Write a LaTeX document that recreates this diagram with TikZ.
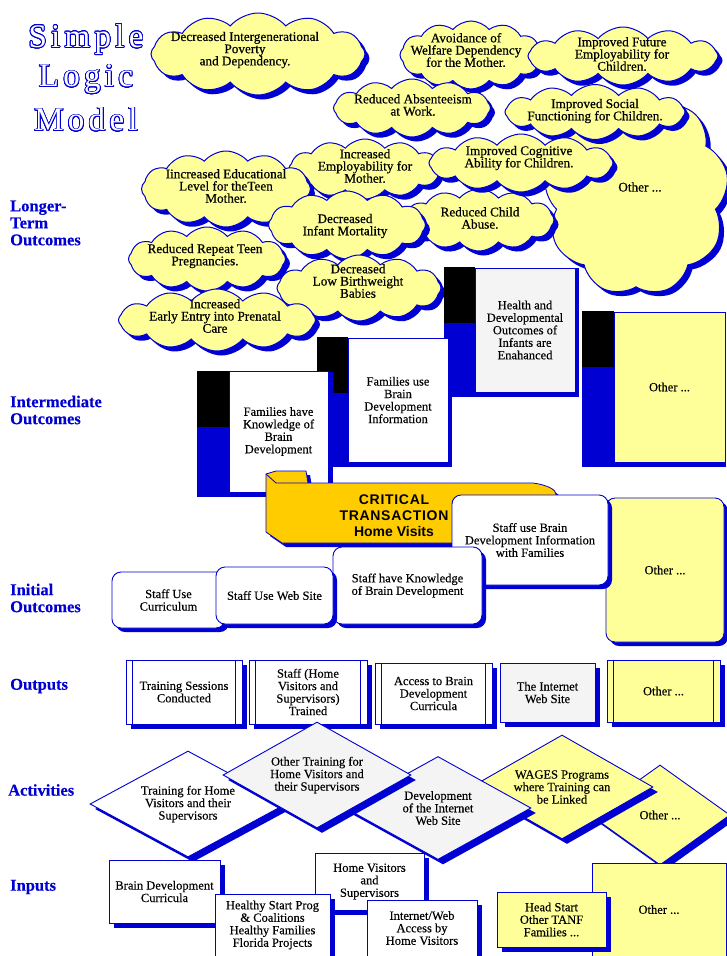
\documentclass[tikz,border=0pt]{standalone}
\usepackage{fontspec}
\setmainfont[FakeBold=0.25]{Liberation Serif}
\newfontfamily\cloudfont[FakeBold=0.6]{Liberation Serif}
\newfontfamily\banfont{Liberation Sans}
\newfontfamily\titlefont[LetterSpace=13]{Liberation Serif}
\usepackage[copies]{contour}
\contourlength{0.8pt}
\contournumber{24}
\usetikzlibrary{shapes.symbols,shapes.geometric,shadows}
\definecolor{bl}{RGB}{0,0,210}
\definecolor{yl}{RGB}{255,255,153}
\definecolor{gr}{RGB}{244,244,244}
\definecolor{gd}{RGB}{255,204,0}
\newcommand\boxfont{\fontsize{12.5}{12.5}\selectfont}
\newcommand\cfont{\cloudfont\fontsize{13.2}{12.2}\selectfont}
\newcommand\dblines[1]{\draw[bl,line width=0.8pt] ([xshift=7pt]#1.north west) -- ([xshift=7pt]#1.south west) ([xshift=-7pt]#1.north east) -- ([xshift=-7pt]#1.south east);}
\tikzset{
  shd/.style={drop shadow={fill=bl,opacity=1,shadow xshift=#1,shadow yshift=-#1}},
  wh/.style 2 args={minimum width=#1, minimum height=#2},
  cl/.style={cloud, cloud puffs=12, cloud puff arc=100, cloud ignores aspect, draw=bl, line width=1pt, fill=yl, inner sep=0pt, shd=4.5pt},
  ct/.style={align=center, font=\cfont, inner sep=0pt},
  ib/.style={rectangle, draw=bl, line width=0.8pt, inner sep=1pt, align=center, font=\boxfont},
  rb/.style={rectangle, rounded corners=9pt, draw=bl, line width=0.9pt, fill=white, inner sep=1pt, align=center, font=\boxfont, shd=4pt},
  ob/.style={rectangle, draw=bl, line width=0.9pt, fill=white, inner sep=1pt, align=center, font=\boxfont, shd=5pt},
  dia/.style={diamond, aspect=1.8, draw=bl, line width=0.9pt, fill=white, inner sep=0pt, align=center, font=\boxfont, shd=5pt},
  lab/.style={font=\bfseries\fontsize{16.5}{17}\selectfont, text=bl, align=left, anchor=west, inner sep=0pt}
}
\begin{document}
\begin{tikzpicture}[x=1pt,y=-1pt]
\fill[white] (0,0) rectangle (726,956);
\useasboundingbox (0,0) rectangle (726,956);

% title
\node[font=\titlefont\fontsize{33}{33}\selectfont, text=white, inner sep=0pt] (t1) at (86,40) {\contour{bl}{Simple}};
\node[font=\titlefont\fontsize{33}{33}\selectfont, text=white, inner sep=0pt] (t2) at (86,80) {\contour{bl}{Logic}};
\node[font=\titlefont\fontsize{33}{33}\selectfont, text=white, inner sep=0pt] (t3) at (86,120) {\contour{bl}{Model}};

% labels
\node[lab] (l1) at (10,223) {Longer-\\Term\\Outcomes};
\node[lab] (l2) at (10,410) {Intermediate\\Outcomes};
\node[lab] (l3) at (10,598) {Initial\\Outcomes};
\node[lab] (l4) at (10,686) {Outputs};
\node[lab] (l5) at (8,790) {Activities};
\node[lab] (l6) at (10,887) {Inputs};

% clouds
\node[cl, cloud puffs=9, cloud puff arc=110, wh={185pt}{205pt}] (c6) at (636,193) {};
\node[ct] (c6t) at (640,187) {Other ...};
\node[cl, wh={214pt}{82pt}] (c1) at (258,54) {};
\node[ct] (c1t) at (245,50) {Decreased Intergenerational\\Poverty\\and Dependency.};
\node[cl, wh={142pt}{68pt}] (c2) at (471,55) {};
\node[ct] (c2t) at (466,50) {Avoidance of\\Welfare Dependency\\for the Mother.};
\node[cl, wh={190pt}{58pt}] (c3) at (623,56) {};
\node[ct] (c3t) at (622,54) {Improved Future\\Employability for\\Children.};
\node[cl, wh={157pt}{58pt}] (c4) at (412,108) {};
\node[ct] (c4t) at (413,105) {Reduced Absenteeism\\at Work.};
\node[cl, wh={180pt}{55pt}] (c5) at (595,112) {};
\node[ct] (c5t) at (595,111) {Improved Social\\Functioning for Children.};
\node[cl, wh={150pt}{62pt}] (c11) at (479,220) {};
\node[ct] (c11t) at (480,218) {Reduced Child\\Abuse.};
\node[cl, wh={152pt}{60pt}] (c7) at (365,169) {};
\node[ct] (c7t) at (365,166) {Increased\\Employability for\\Mother.};
\node[cl, wh={184pt}{58pt}] (c8) at (521,163) {};
\node[ct] (c8t) at (519,158) {Improved Cognitive\\Ability for Children.};
\node[cl, wh={169pt}{76pt}] (c9) at (226,189) {};
\node[ct] (c9t) at (226,186) {Iincreased Educational\\Level for theTeen\\Mother.};
\node[cl, wh={157pt}{68pt}] (c10) at (347,225) {};
\node[ct] (c10t) at (345,226) {Decreased\\Infant Mortality};
\node[cl, wh={157pt}{64pt}] (c12) at (207,259) {};
\node[ct] (c12t) at (205,256) {Reduced Repeat Teen\\Pregnancies.};
\node[cl, wh={164pt}{66pt}] (c13) at (359,288) {};
\node[ct] (c13t) at (358,281) {Decreased\\Low Birthweight\\Babies};
\node[cl, wh={197pt}{62pt}] (c14) at (217,320) {};
\node[ct] (c14t) at (215,316) {Increased\\Early Entry into Prenatal\\Care};

% intermediate outcomes
\fill[bl] (582,312) rectangle (726,467);
\fill[black] (582,311) rectangle (614,367);
\node[ib, fill=yl, wh={111pt}{150pt}] (id) at (669.5,387) {Other ...};
\fill[bl] (444,268) rectangle (579,397);
\fill[black] (444,267) rectangle (475,323);
\node[ib, fill=gr, wh={100pt}{124pt}] (ic) at (525,330) {Health and\\Developmental\\Outcomes of\\Infants are\\Enahanced};
\fill[bl] (317,338) rectangle (452,467);
\fill[black] (317,337) rectangle (348,393);
\node[ib, fill=white, wh={100pt}{124pt}] (ibb) at (398,400) {Families use\\Brain\\Development\\Information};
\fill[bl] (197,372) rectangle (333,497);
\fill[black] (197,371) rectangle (229,427);
\node[ib, fill=white, wh={99pt}{121pt}] (ia) at (278.5,431.5) {Families have\\Knowledge of\\Brain\\Development};

% banner
\filldraw[fill=gd, draw=bl, line width=0.8pt, shd=4pt] (266,474) -- (276,471) -- (306,471) -- (308,483) -- (533,483) .. controls (548,485) and (556,490) .. (556,494) -- (556,543) -- (282,543) -- (266,532) -- cycle;
\draw[bl, line width=0.8pt] (266,474) -- (276,483) -- (308,483);
\node[font=\banfont\bfseries\fontsize{14}{16}\selectfont, align=center, inner sep=0pt] (ban) at (394,516) {\addfontfeature{LetterSpace=5}CRITICAL\\\addfontfeature{LetterSpace=5}TRANSACTION\\Home Visits};

% initial outcomes
\node[rb, fill=yl, wh={118pt}{144pt}] (i5) at (665,570) {Other ...};
\node[rb, wh={156pt}{90pt}] (i4) at (530,540) {Staff use Brain\\Development Information\\with Families};
\node[rb, wh={149pt}{77pt}] (i3) at (407.5,585.5) {Staff have Knowledge\\of Brain Development};
\node[rb, wh={113pt}{56pt}] (i1) at (168.5,600) {Staff Use\\Curriculum};
\node[rb, wh={117pt}{57pt}] (i2) at (274.5,595.5) {Staff Use Web Site};

% outputs
\node[ob, wh={116pt}{64pt}] (o1) at (184,692) {Training Sessions\\Conducted}; \dblines{o1}
\node[ob, wh={118pt}{64pt}] (o2) at (308,692) {Staff (Home\\Visitors and\\Supervisors)\\Trained}; \dblines{o2}
\node[ob, wh={117pt}{61pt}] (o3) at (433.5,693.5) {Access to Brain\\Development\\Curricula}; \dblines{o3}
\node[ob, fill=gr, wh={95pt}{59pt}] (o4) at (547.5,692.5) {The Internet\\Web Site};
\node[ob, fill=yl, wh={113pt}{62pt}] (o5) at (663.5,691) {Other ...}; \dblines{o5}

% activities
\node[dia, fill=yl, wh={140pt}{100pt}] (d5) at (660,815) {Other ...};
\node[dia, fill=yl, wh={182pt}{104pt}] (d4) at (562,787) {WAGES Programs\\where Training can\\be Linked};
\node[dia, fill=gr, wh={186pt}{103pt}] (d3) at (438,808) {Development\\of the Internet\\Web Site};
\node[dia, fill=white, wh={196pt}{106pt}] (d1) at (188,804) {Training for Home\\Visitors and their\\Supervisors};
\node[dia, fill=gr, wh={188pt}{106pt}] (d2) at (317,775) {Other Training for\\Home Visitors and\\their Supervisors};

% inputs
\node[ob, wh={111pt}{63pt}] (n1) at (164.5,891.5) {Brain Development\\Curricula};
\node[ob, wh={109pt}{57pt}] (n2) at (369.5,881.5) {Home Visitors\\and\\Supervisors};
\node[ob, wh={115pt}{62pt}] (n3) at (272.5,925) {Healthy Start Prog\\\& Coalitions\\Healthy Families\\Florida Projects};
\node[ob, wh={110pt}{56pt}] (n4) at (422,928) {Internet/Web\\Access by\\Home Visitors};
\node[ob, fill=yl, wh={134pt}{93pt}] (n5) at (659,909.5) {Other ...};
\node[ob, fill=yl, wh={109pt}{55pt}] (n6) at (551.5,919.5) {Head Start\\Other TANF\\Families ...};
\end{tikzpicture}
\end{document}
